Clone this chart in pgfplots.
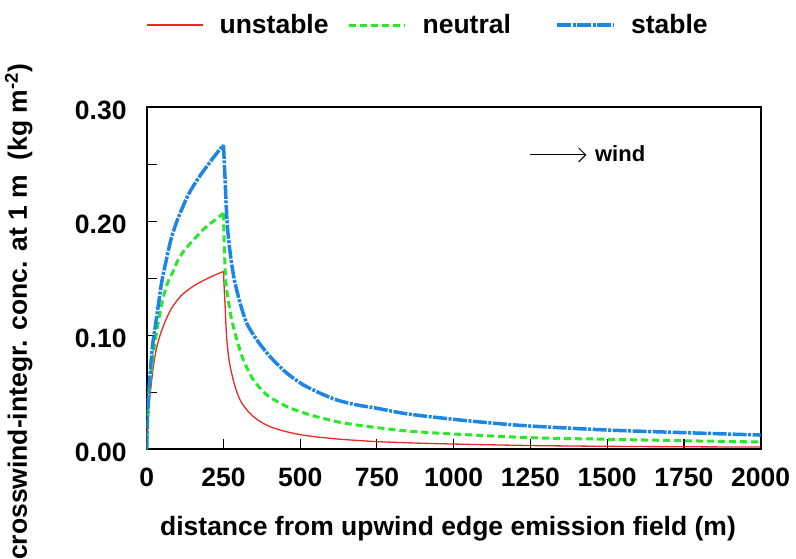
\documentclass[border=0pt]{standalone}
\usepackage{fontspec}
\setmainfont{Liberation Sans}
\usepackage{pgfplots}
\pgfplotsset{compat=1.18}
\usetikzlibrary{arrows.meta}

\definecolor{cunstable}{RGB}{235,40,40}
\definecolor{cneutral}{RGB}{40,232,40}
\definecolor{cstable}{RGB}{28,134,228}

\newcommand{\lab}{\fontsize{26.5}{30}\selectfont\bfseries}

% crosswind-integrated concentration at 1 m height (kg m^-2)
% x: distance from upwind edge of the emission field (m)
% each curve: build-up over the field (0-250 m), then decay downwind
\pgfplotsset{
  unstable/.style={cunstable, line width=1.3pt, smooth, tension=0.45},
  neutral/.style={cneutral, line width=3pt, dash pattern=on 7pt off 4pt, smooth, tension=0.45},
  stable/.style={cstable, line width=3.5pt, dash pattern=on 14pt off 1.5pt on 3pt off 1.5pt, smooth, tension=0.45},
}
\begin{document}
\begin{tikzpicture}
\begin{axis}[
  name=ax,
  scale only axis,
  width=614pt, height=342pt,
  xmin=0, xmax=2000, ymin=0, ymax=0.30,
  xtick={0,250,...,2000},
  ytick={0,0.1,0.2,0.3},
  minor ytick={0.05,0.15,0.25},
  xtick pos=left, ytick pos=left,
  tick align=inside,
  major tick length=10pt, minor tick length=10pt,
  tick style={line width=1.1pt, black},
  axis line style={line width=1.7pt},
  /pgf/number format/assume math mode=true,
  x tick label style={/pgf/number format/1000 sep={}},
  y tick label style={/pgf/number format/fixed, /pgf/number format/fixed zerofill, /pgf/number format/precision=2},
  every tick label/.append style={font=\lab},
  xticklabel style={anchor=north, inner sep=0pt, yshift=-18pt},
  yticklabel style={anchor=east, inner sep=0pt, xshift=-20pt, yshift=-3pt},
  xlabel={distance from upwind edge emission field (m)},
  ylabel={crosswind-integr. conc. at 1 m\hspace{0.55em}(kg m\textsuperscript{-2})},
  label style={font=\lab},
  xlabel style={at={(axis description cs:0.4907,-0.2506)}, anchor=base, inner sep=0pt},
  ylabel style={at={(axis description cs:-0.195,0.4015)}, anchor=base, inner sep=0pt},
  legend columns=3,
  legend style={draw=none, fill=none, inner sep=0pt, font=\lab,
    at={(axis description cs:-0.001,1.2406)}, anchor=west,
    nodes={inner sep=0pt},
    /tikz/every odd column/.append style={column sep=16pt}},
  legend image code/.code={\draw[#1] (0pt,0pt) -- (56pt,0pt);},
]

% ---- unstable ----
\addplot[unstable] table {
x y
0 0
1.5 0.015
3 0.027
6 0.038
11 0.0476
16 0.060
21 0.071
26 0.080
32 0.0886
43.5 0.100
60 0.112
81 0.1237
113 0.135
157 0.144
211 0.1515
250 0.156
};
\addlegendentry{\makebox[128pt][l]{unstable}}
\addplot[unstable, forget plot] table {
x y
250 0.156
251 0.150
253 0.138
255.5 0.125
258 0.110
261 0.0959
266 0.083
272 0.0725
280 0.063
288 0.0549
298 0.047
310 0.0404
328 0.034
348 0.0286
372 0.024
402 0.0198
440 0.0165
478 0.014
520 0.012
566 0.0105
631 0.0088
685 0.0078
750 0.0067
875 0.0055
1000 0.0046
1250 0.0033
1500 0.0026
1750 0.0022
2000 0.0020
};

% ---- neutral ----
\addplot[neutral] table {
x y
0 0
2 0.020
5 0.036
7.5 0.048
11 0.060
16 0.071
21 0.082
27 0.094
38 0.112
53 0.1325
69.5 0.147
86 0.156
102 0.166
124 0.175
157 0.185
189 0.194
222 0.201
250 0.207
};
\addlegendentry{\makebox[133pt][l]{neutral}}
\addplot[neutral, forget plot] table {
x y
250 0.207
252 0.185
255.5 0.158
259 0.143
266 0.130
277 0.1134
294 0.0959
315 0.0783
348 0.0608
392 0.0476
457 0.0374
533 0.0301
620 0.0242
685 0.0213
750 0.0190
850 0.0160
1000 0.0134
1250 0.0102
1500 0.0088
1750 0.0075
2000 0.0064
};

% ---- stable ----
\addplot[stable] table {
x y
0 0
2 0.025
5 0.040
7.5 0.0535
10 0.062
16 0.0827
20 0.093
27 0.106
38 0.1266
49 0.147
65 0.1675
81 0.186
102 0.2026
135 0.223
168 0.2377
211 0.2537
250 0.267
};
\addlegendentry{stable}
\addplot[stable, forget plot] table {
x y
250 0.267
253 0.250
256 0.233
258 0.219
261 0.203
265 0.189
272 0.172
280 0.157
288 0.1456
304.5 0.128
326 0.1105
359 0.0959
402 0.0812
457 0.0667
511 0.0564
566 0.0491
620 0.0432
685 0.0389
750 0.0360
850 0.0310
1000 0.0263
1125 0.0230
1250 0.0204
1500 0.0169
1750 0.0146
2000 0.0125
};

% wind direction annotation
\draw[-{Straight Barb[length=7pt,width=14pt]}, line width=0.9pt]
  (axis cs:1248,0.2582) -- (axis cs:1432,0.2582);
\node[anchor=base west, inner sep=0pt, font=\fontsize{22}{26}\selectfont\bfseries]
  at (axis cs:1460,0.2523) {wind};
\end{axis}
\pgfresetboundingbox
\path ([shift={(-146.7pt,-109.7pt)}]ax.south west) rectangle ([shift={(649.3pt,449.3pt)}]ax.south west);
\end{tikzpicture}
\end{document}
